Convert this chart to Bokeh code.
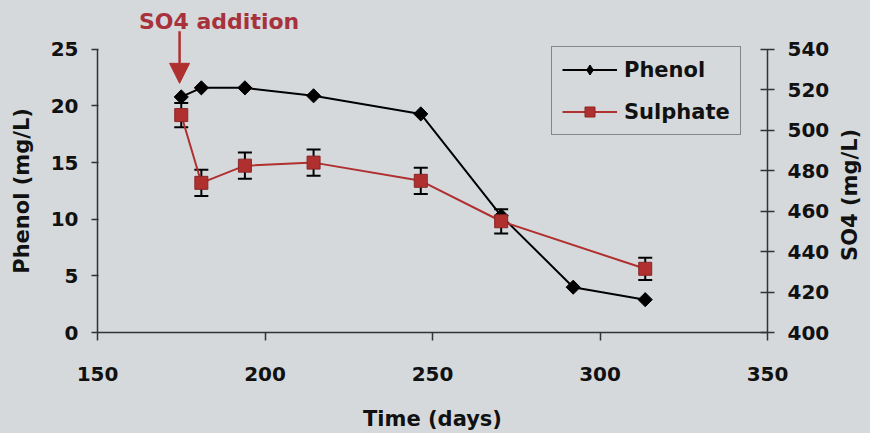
import math
from bokeh.plotting import figure
from bokeh.layouts import row
from bokeh.models import (Range1d, LinearAxis, FixedTicker, Whisker, TeeHead,
                          ColumnDataSource, Label, Arrow, NormalHead, Legend, LegendItem)
from bokeh.embed import file_html
from bokeh.resources import INLINE

# ---- data ----
phenol_days = [175, 181, 194, 214.5, 246.5, 270.5, 292, 313.5]
phenol = [20.8, 21.6, 21.6, 20.9, 19.3, 10.3, 4.0, 2.9]

so4_days = [175, 181, 194, 214.5, 246.5, 270.5, 313.5]
so4 = [507.5, 474, 482.5, 484, 475, 455, 431.5]
so4_err = [6, 6.5, 6.5, 6.5, 6.5, 6, 5.5]

x_ticks = [150, 200, 250, 300, 350]
phenol_ticks = [0, 5, 10, 15, 20, 25]
so4_ticks = [400, 420, 440, 460, 480, 500, 520, 540]

annot_day = 174.5

# ---- styling / geometry ----
BG = "#d5d9dc"
RED = "#b02f2f"
RED_TXT = "#a8323c"
AX = "#333333"
FONT = "DejaVu Sans"

H = 433
LEFT_W, RIGHT_W = 40, 35
MAIN_W = 870 - LEFT_W - RIGHT_W

FRAME_H = 333          # frame spans canvas top to the x axis
AXIS_TOP = 49          # pixel row of the top tick (25 / 540)
scale = FRAME_H / (FRAME_H - AXIS_TOP)
y_top = 25 * scale
r_top = 400 + 140 * scale

p = figure(width=MAIN_W, height=H, output_backend="svg", toolbar_location=None,
           x_range=Range1d(150, 350), y_range=Range1d(0, y_top),
           min_border_left=97 - LEFT_W, min_border_right=870 - RIGHT_W - 767,
           min_border_top=0, min_border_bottom=H - FRAME_H)
p.background_fill_color = BG
p.border_fill_color = BG
p.outline_line_color = None
p.grid.visible = False
p.extra_y_ranges = {"so4": Range1d(400, r_top)}


def style_axis(ax, ticks, out, inn, standoff):
    ax.ticker = FixedTicker(ticks=ticks)
    ax.axis_line_color = AX
    ax.axis_line_width = 1.5
    ax.major_tick_line_color = AX
    ax.major_tick_line_width = 1.5
    ax.major_tick_out = out
    ax.major_tick_in = inn
    ax.minor_tick_line_color = None
    ax.major_label_text_font = FONT
    ax.major_label_text_font_style = "bold"
    ax.major_label_text_font_size = "20px"
    ax.major_label_text_color = "#111111"
    ax.major_label_standoff = standoff


xa = p.xaxis[0]
style_axis(xa, x_ticks, 8, 0, 26)
xa.axis_label = "Time (days)"
xa.axis_label_text_font = FONT
xa.axis_label_text_font_style = "bold"
xa.axis_label_text_font_size = "21px"
xa.axis_label_text_color = "#111111"
xa.axis_label_standoff = 23
ya = p.yaxis[0]
style_axis(ya, phenol_ticks, 6, 1, 13)
ya.bounds = (0, 25)
ra = LinearAxis(y_range_name="so4")
style_axis(ra, so4_ticks, 7, 7, 13)
ra.bounds = (400, 540)
p.add_layout(ra, "right")

# ---- phenol ----
l1 = p.line(phenol_days, phenol, line_color="black", line_width=2)
s1 = p.scatter(phenol_days, phenol, marker="square", angle=math.pi / 4, size=10,
               fill_color="black", line_color="black")
# hidden legend proxy so the legend shows a diamond
s1_leg = p.scatter(phenol_days, phenol, marker="diamond", size=18,
                   fill_color="black", line_color="black", visible=False)

# ---- sulphate with error bars ----
src = ColumnDataSource(dict(x=so4_days, y=so4,
                            upper=[v + e for v, e in zip(so4, so4_err)],
                            lower=[v - e for v, e in zip(so4, so4_err)]))
wh = Whisker(source=src, base="x", upper="upper", lower="lower", dimension="height",
             y_range_name="so4", line_color="black", line_width=2, level="underlay",
             upper_head=TeeHead(size=14, line_width=2, line_color="black"),
             lower_head=TeeHead(size=14, line_width=2, line_color="black"))
p.add_layout(wh)
l2 = p.line("x", "y", source=src, y_range_name="so4", line_color=RED, line_width=2)
s2 = p.scatter("x", "y", source=src, y_range_name="so4", marker="square", size=13,
               fill_color=RED, line_color="#8a2626")

# ---- legend ----
leg = Legend(items=[LegendItem(label="Phenol", renderers=[l1, s1_leg]),
                    LegendItem(label="Sulphate", renderers=[l2, s2])],
             location=(551 - 97, FRAME_H - 136))
leg.label_text_font = FONT
leg.label_text_font_style = "bold"
leg.label_text_font_size = "21px"
leg.label_text_color = "#111111"
leg.glyph_width = 55
leg.glyph_height = 25
leg.label_height = 25
leg.label_standoff = 7
leg.spacing = 17
leg.padding = 10
leg.margin = 0
leg.border_line_color = AX
leg.border_line_width = 1.5
leg.background_fill_alpha = 0
p.add_layout(leg)

# ---- annotation: SO4 addition ----
p.add_layout(Arrow(x_start=annot_day, y_start=26.6, x_end=annot_day, y_end=22.0,
                   line_color=RED, line_width=2.5,
                   end=NormalHead(size=20, fill_color=RED, line_color=RED)))
p.add_layout(Label(x=186.3, y=27.5, text="SO4 addition", text_font=FONT,
                   text_font_style="bold", text_font_size="22px", text_color=RED_TXT,
                   text_align="center", text_baseline="middle"))


# ---- side strips carrying the vertical axis titles ----
def strip(width, text, cx, cy):
    s = figure(width=width, height=H, output_backend="svg", toolbar_location=None,
               x_range=Range1d(0, width), y_range=Range1d(0, FRAME_H),
               x_axis_location=None, y_axis_location=None,
               min_border_left=0, min_border_right=0, min_border_top=0,
               min_border_bottom=H - FRAME_H)
    s.background_fill_color = BG
    s.border_fill_color = BG
    s.outline_line_color = None
    s.grid.visible = False
    s.add_layout(Label(x=cx, y=FRAME_H - cy, text=text, angle=math.pi / 2,
                       text_font=FONT, text_font_style="bold", text_font_size="21px",
                       text_color="#111111", text_align="center",
                       text_baseline="middle"))
    return s


left = strip(LEFT_W, "Phenol (mg/L)", 21, 191)
right = strip(RIGHT_W, "SO4 (mg/L)", 849 - (870 - RIGHT_W), 195)

layout = row(left, p, right, spacing=0, styles={"background-color": BG})
open("out.html", "w").write(file_html(layout, INLINE))
